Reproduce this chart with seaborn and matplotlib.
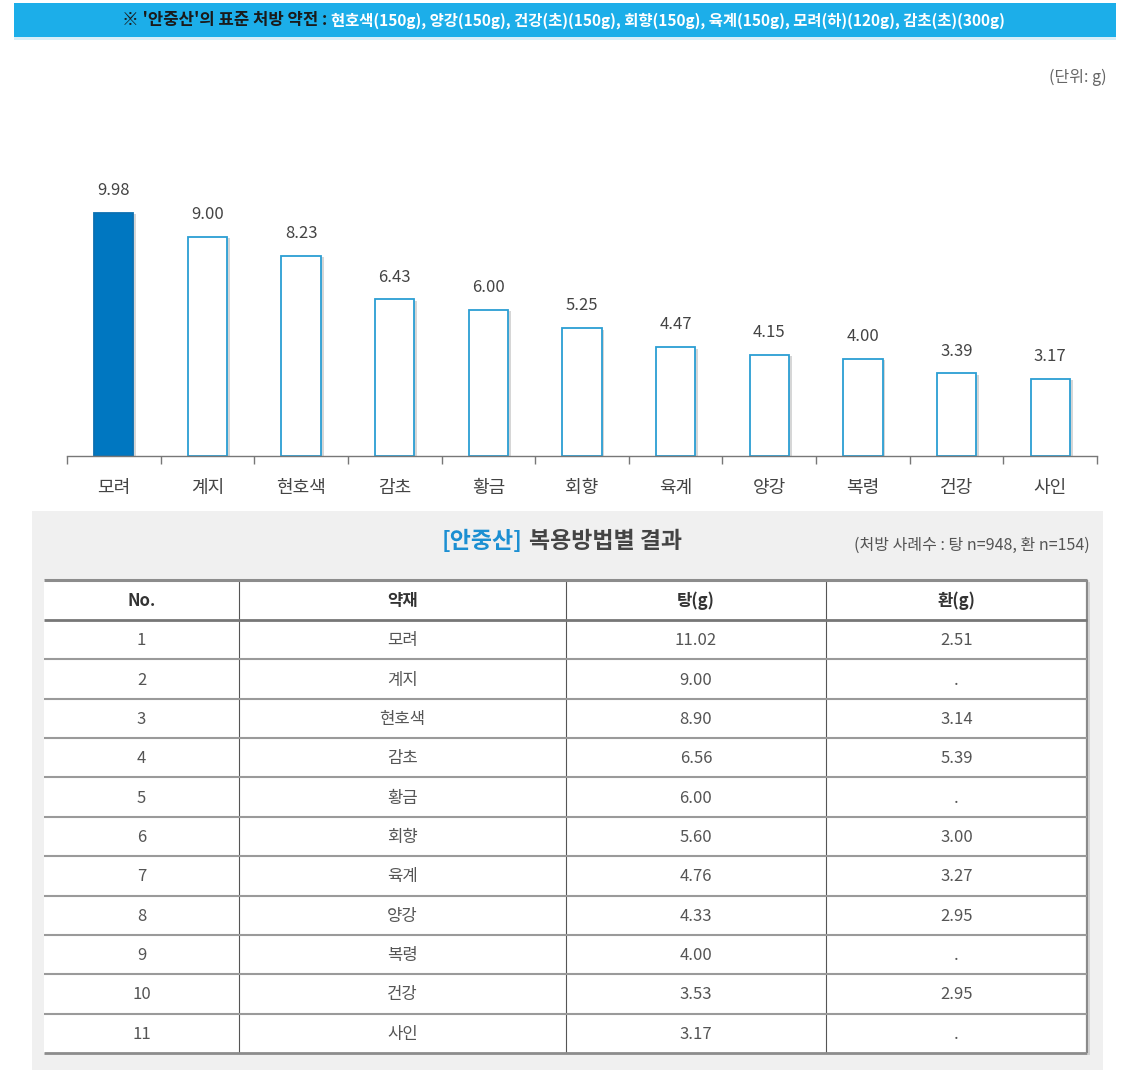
import matplotlib
matplotlib.use('Agg')
import matplotlib.pyplot as plt
import matplotlib.patheffects as pe
from matplotlib.patches import Rectangle
import numpy as np
import pandas as pd
import seaborn as sns

# ---------------- data ----------------
herbs = ['모려', '계지', '현호색', '감초', '황금', '회향', '육계', '양강', '복령', '건강', '사인']
avg_dose = [9.98, 9.00, 8.23, 6.43, 6.00, 5.25, 4.47, 4.15, 4.00, 3.39, 3.17]
row_no = [1, 2, 3, 4, 5, 6, 7, 8, 9, 10, 11]
tang_dose = [11.02, 9.00, 8.90, 6.56, 6.00, 5.60, 4.76, 4.33, 4.00, 3.53, 3.17]
hwan_dose = [2.51, None, 3.14, 5.39, None, 3.00, 3.27, 2.95, None, 2.95, None]
table_header = ['No.', '약재', '탕(g)', '환(g)']
banner_lead = "※ '안중산'의 표준 처방 약전 :"
banner_items = "현호색(150g), 양강(150g), 건강(초)(150g), 회향(150g), 육계(150g), 모려(하)(120g), 감초(초)(300g)"
unit_text = "(단위: g)"
title_blue = "[안중산]"
title_rest = "복용방법별 결과"
sample_note = "(처방 사례수 : 탕 n=948, 환 n=154)"

# ---------------- setup ----------------
sns.set_theme(style='white')
plt.rcParams['font.family'] = ['Noto Sans CJK KR', 'DejaVu Sans']

W, H = 1145, 1085
fig = plt.figure(figsize=(W / 100, H / 100), dpi=100)
fig.patch.set_facecolor('white')

bg = fig.add_axes([0, 0, 1, 1])
bg.set_xlim(0, W)
bg.set_ylim(H, 0)
bg.axis('off')
bg.set_zorder(0)


def frac(l, t, r, b):
    return [l / W, 1 - b / H, (r - l) / W, (b - t) / H]


# ---------------- banner ----------------
bg.add_patch(Rectangle((14, 3), 1102, 34, color='#1CAEE9', lw=0))
bg.add_patch(Rectangle((14, 37), 1102, 3, color='#D8EEF8', lw=0))
bg.text(327, 20.5, banner_lead, ha='right', va='center', color='#1a1a1a',
        fontweight='bold', fontsize=12)
bg.text(331, 20.5, banner_items, ha='left', va='center', color='white',
        fontweight='bold', fontsize=11.1)

bg.text(1107, 77, unit_text, ha='right', va='center', color='#666666', fontsize=11.5)

# ---------------- bar chart ----------------
ax = fig.add_axes(frac(67, 130, 1097, 456))
ax.set_zorder(2)
ax.patch.set_alpha(0)
df = pd.DataFrame({'herb': herbs, 'dose': avg_dose})
sns.barplot(data=df, x='herb', y='dose', order=herbs, width=0.42, ax=ax,
            color='white', edgecolor='#2B9ED3', linewidth=1.3, saturation=1)
for i, p in enumerate(ax.patches):
    if i == 0:
        p.set_facecolor('#0077C1')
        p.set_edgecolor('#0A70B2')
    else:
        p.set_facecolor('white')
    p.set_path_effects([pe.SimplePatchShadow(offset=(2.0, -1.0), shadow_rgbFace='#8a8a8a', alpha=0.35),
                        pe.Normal()])
ax.set_xlim(-0.5, len(herbs) - 0.5)
ax.set_ylim(0, (456 - 130) / 24.35)
for p, v in zip(ax.patches, avg_dose):
    ax.annotate(f'{v:.2f}', (p.get_x() + p.get_width() / 2, v), xytext=(0, 16),
                textcoords='offset points', ha='center', va='center',
                color='#444444', fontsize=12)
ax.set_xlabel('')
ax.set_ylabel('')
ax.set_yticks([])
for s in ['top', 'right', 'left']:
    ax.spines[s].set_visible(False)
ax.spines['bottom'].set_color('#777777')
ax.spines['bottom'].set_linewidth(1.0)
ax.set_xticks(range(len(herbs)))
ax.set_xticklabels(herbs)
ax.set_xticks(np.arange(-0.5, len(herbs), 1), minor=True)
ax.tick_params(axis='x', which='major', length=0, pad=16.5, labelsize=13, labelcolor='#444444')
ax.tick_params(axis='x', which='minor', length=6, width=1, color='#777777', direction='out', bottom=True)

# ---------------- table panel ----------------
bg.add_patch(Rectangle((32, 511), 1071, 559, color='#F0F0F0', lw=0))
bg.text(522, 541, title_blue, ha='right', va='center', color='#1C8FD2',
        fontweight='bold', fontsize=16.5)
bg.text(529, 541, title_rest, ha='left', va='center', color='#444444',
        fontweight='bold', fontsize=16.5)
bg.text(1090, 545, sample_note, ha='right', va='center', color='#555555', fontsize=11.5)

tl, tr, tt, tb = 44, 1087, 580, 1053
hdr_b = 620
row_h = (tb - hdr_b) / len(row_no)
bg.add_patch(Rectangle((tl, tt), tr - tl, tb - tt, color='white', lw=0))

col_edges = [tl, 239, 566, 826, tr]
col_centers = [(col_edges[i] + col_edges[i + 1]) / 2 for i in range(4)]

for x in col_edges[1:-1]:
    bg.plot([x, x], [tt, tb], color='#555555', lw=0.8, solid_capstyle='butt')
bg.plot([tr, tr], [tt, tb], color='#8a8a8a', lw=1.6, solid_capstyle='butt')
bg.plot([tr + 2, tr + 2], [tt + 2, tb + 2], color='#cccccc', lw=1.2, solid_capstyle='butt')

bg.plot([tl, tr], [tt, tt], color='#8c8c8c', lw=2.2, solid_capstyle='butt')
bg.plot([tl, tr], [hdr_b, hdr_b], color='#777777', lw=2.0, solid_capstyle='butt')
for k in range(1, len(row_no)):
    y = hdr_b + k * row_h
    bg.plot([tl, tr], [y, y], color='#9a9a9a', lw=1.5, solid_capstyle='butt')
bg.plot([tl, tr], [tb, tb], color='#8c8c8c', lw=2.0, solid_capstyle='butt')

for cx, h in zip(col_centers, table_header):
    bg.text(cx, (tt + hdr_b) / 2 + 1, h, ha='center', va='center', color='#333333',
            fontsize=12, fontweight='bold')

for i, (n, herb, tg, hw) in enumerate(zip(row_no, herbs, tang_dose, hwan_dose)):
    y = hdr_b + (i + 0.5) * row_h
    cells = [str(n), herb, f'{tg:.2f}', '.' if hw is None else f'{hw:.2f}']
    for cx, c in zip(col_centers, cells):
        bg.text(cx, y + 1, c, ha='center', va='center', color='#555555', fontsize=12)

fig.savefig('out.png', dpi=100, facecolor='white')
